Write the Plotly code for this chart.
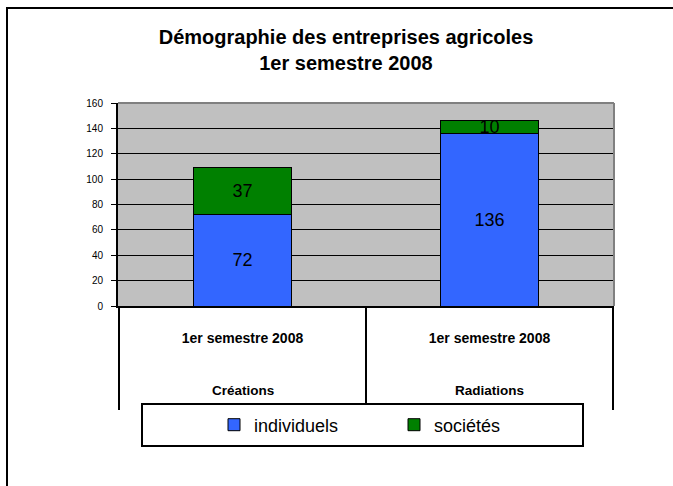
import plotly.graph_objects as go

# ---- data ----
categories = ["Créations", "Radiations"]
periods = ["1er semestre 2008", "1er semestre 2008"]
individuels = [72, 136]
societes = [37, 10]
series_names = ["individuels", "sociétés"]
y_ticks = [0, 20, 40, 60, 80, 100, 120, 140, 160]

FONT = "Liberation Sans, Arial, sans-serif"

fig = go.Figure()
fig.add_bar(
    name=series_names[0], x=categories, y=individuels,
    marker=dict(color="#3366FF", line=dict(color="black", width=1)),
    text=individuels, textposition="inside", insidetextanchor="middle",
    textangle=0, textfont=dict(family=FONT, size=18, color="black"),
)
fig.add_bar(
    name=series_names[1], x=categories, y=societes,
    marker=dict(color="#008000", line=dict(color="black", width=1)),
    text=societes, textposition="inside", insidetextanchor="middle",
    textangle=0, textfont=dict(family=FONT, size=18, color="black"),
)

# plot area geometry (px)
W, H = 673, 486
L, R, T, B = 118, 59, 103, 180
pw, ph = W - L - R, H - T - B

def px_x(x):
    return (x - L) / pw

def px_y(y):
    return (H - B - y) / ph

shapes = []
# outer chart border (cropped at right/bottom)
shapes.append(dict(type="rect", xref="paper", yref="paper",
                   x0=px_x(7), x1=px_x(700), y0=px_y(520), y1=px_y(8),
                   line=dict(color="black", width=2), layer="below"))
# plot border top / right (gray)
shapes.append(dict(type="line", xref="paper", yref="paper", x0=0, x1=1, y0=1, y1=1,
                   line=dict(color="#808080", width=2), layer="above"))
shapes.append(dict(type="line", xref="paper", yref="paper", x0=1, x1=1, y0=0, y1=1,
                   line=dict(color="#808080", width=2), layer="above"))
# category separators
for i in range(len(categories) + 1):
    shapes.append(dict(type="line", xref="x", yref="paper", x0=i - 0.5, x1=i - 0.5,
                       y0=0, y1=px_y(410), line=dict(color="black", width=2), layer="above"))
# legend box
shapes.append(dict(type="rect", xref="paper", yref="paper",
                   x0=px_x(142), x1=px_x(583), y0=px_y(446), y1=px_y(404),
                   fillcolor="white", line=dict(color="black", width=2), layer="above"))

annotations = []
for c in categories:
    annotations.append(dict(x=c, xref="x", y=px_y(390), yref="paper", text=f"<b>{c}</b>",
                            showarrow=False, yanchor="middle",
                            font=dict(family=FONT, size=13.5, color="black")))

fig.update_layout(
    width=W, height=H,
    margin=dict(l=L, r=R, t=T, b=B),
    paper_bgcolor="white", plot_bgcolor="#C0C0C0",
    barmode="stack", bargap=0.6,
    font=dict(family=FONT, color="black"),
    title=dict(text="<b>Démographie des entreprises agricoles<br>1er semestre 2008</b>",
               x=px_x(346), xref="paper", xanchor="center",
               y=1 - 44 / H, yref="container", yanchor="top",
               font=dict(family=FONT, size=20, color="black")),
    uniformtext=dict(minsize=18, mode="show"),
    showlegend=True,
    legend=dict(orientation="h", x=px_x(214), xanchor="left",
                y=px_y(425), yanchor="middle", bgcolor="rgba(0,0,0,0)",
                font=dict(family=FONT, size=18, color="black"),
                traceorder="normal", entrywidth=135, entrywidthmode="pixels"),
    shapes=shapes, annotations=annotations,
)
fig.update_yaxes(range=[0, 160], tickvals=y_ticks, showgrid=True, gridcolor="black",
                 gridwidth=1, zeroline=False, showline=True, linecolor="black", linewidth=2,
                 ticks="outside", ticklen=5, tickcolor="black", tickwidth=1,
                 ticklabelstandoff=6,
                 tickfont=dict(family=FONT, size=10, color="black"))
fig.update_xaxes(tickvals=categories, ticktext=[f"<b>{p}</b>" for p in periods],
                 showline=True, linecolor="black", linewidth=2, ticks="",
                 ticklabelstandoff=18,
                 tickfont=dict(family=FONT, size=14, color="black"))

fig.write_html("out.html", config={"displayModeBar": False},
               post_script="document.body.style.margin='0';")
